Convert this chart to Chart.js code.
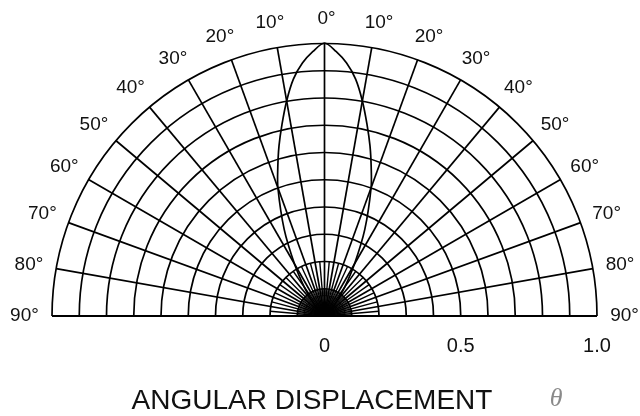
<!DOCTYPE html>
<html>
<head>
<meta charset="utf-8">
<title>Angular Displacement</title>
<script src="https://cdn.jsdelivr.net/npm/chart.js@4"></script>
<style>
    html, body { margin: 0; padding: 0; background: #fff; }
    #wrap { width: 640px; height: 416px; }
</style>
</head>
<body>
<div id="wrap"><canvas id="polarChart" width="640" height="416"></canvas></div>
<script>
// radiation pattern (angle in degrees, relative intensity)
const lobeAngles = [-90, -70, -60, -50, -45, -40, -35, -30, -25, -20, -17.5, -15, -12.5, -10, -7.5, -5, -2.5, 0,
                    2.5, 5, 7.5, 10, 12.5, 15, 17.5, 20, 25, 30, 35, 40, 45, 50, 60, 70, 90];
const lobeValues = [0, 0, 0.01, 0.02, 0.04, 0.07, 0.13, 0.22, 0.35, 0.50, 0.57, 0.645, 0.72, 0.80, 0.875, 0.93, 0.97, 1.0,
                    0.97, 0.93, 0.875, 0.80, 0.72, 0.645, 0.57, 0.50, 0.35, 0.22, 0.13, 0.07, 0.04, 0.02, 0.01, 0, 0];

// grid
const ringValues = [0.1, 0.2, 0.3, 0.4, 0.5, 0.6, 0.7, 0.8, 0.9, 1.0];
const spokeAngles = [-90, -80, -70, -60, -50, -40, -30, -20, -10, 0, 10, 20, 30, 40, 50, 60, 70, 80, 90];
const angleLabels = ['90°', '80°', '70°', '60°', '50°', '40°', '30°', '20°', '10°', '0°',
                     '10°', '20°', '30°', '40°', '50°', '60°', '70°', '80°', '90°'];

// radial axis ticks
const xTickValues = [0, 0.5, 1];
const xTickLabels = ['0', '0.5', '1.0'];

const axisTitle = 'ANGULAR DISPLACEMENT';
const thetaSymbol = 'θ';

const rad = d => d * Math.PI / 180;
const lobePoints = lobeAngles.map((a, i) => ({
    x: lobeValues[i] * Math.sin(rad(a)),
    y: lobeValues[i] * Math.cos(rad(a))
}));

const polarGrid = {
    id: 'polarGrid',
    beforeDatasetsDraw(chart) {
        const ctx = chart.ctx;
        const xs = chart.scales.x, ys = chart.scales.y;
        const cx = xs.getPixelForValue(0), cy = ys.getPixelForValue(0);
        const px = (r, a) => [xs.getPixelForValue(r * Math.sin(rad(a))), ys.getPixelForValue(r * Math.cos(rad(a)))];
        const unit = xs.getPixelForValue(1) - cx;

        ctx.save();
        ctx.strokeStyle = '#000';
        ctx.lineWidth = 1.7;

        // rings
        ringValues.forEach(r => {
            ctx.beginPath();
            ctx.arc(cx, cy, r * unit, Math.PI, 2 * Math.PI);
            ctx.stroke();
        });
        // tiny rings near the centre
        ctx.lineWidth = 0.8;
        [0.05, 0.075].forEach(r => {
            ctx.beginPath();
            ctx.arc(cx, cy, r * unit, Math.PI, 2 * Math.PI);
            ctx.stroke();
        });

        // main spokes
        ctx.lineWidth = 1.7;
        spokeAngles.forEach(a => {
            const [x1, y1] = px(1, a);
            ctx.beginPath();
            ctx.moveTo(cx, cy);
            ctx.lineTo(x1, y1);
            ctx.stroke();
        });
        // extra spokes every 5 deg up to 0.2, every 2.5 deg up to 0.1
        ctx.lineWidth = 1.4;
        for (let a = -85; a <= 85; a += 10) {
            const [x1, y1] = px(0.2, a);
            ctx.beginPath(); ctx.moveTo(cx, cy); ctx.lineTo(x1, y1); ctx.stroke();
        }
        ctx.lineWidth = 0.8;
        for (let a = -87.5; a <= 87.5; a += 5) {
            const [x1, y1] = px(0.1, a);
            ctx.beginPath(); ctx.moveTo(cx, cy); ctx.lineTo(x1, y1); ctx.stroke();
        }
        ctx.fillStyle = '#000';
        ctx.beginPath();
        ctx.arc(cx, cy, 0.03 * unit, Math.PI, 2 * Math.PI);
        ctx.fill();

        // baseline
        ctx.lineWidth = 1.8;
        ctx.beginPath();
        ctx.moveTo(xs.getPixelForValue(-1), cy);
        ctx.lineTo(xs.getPixelForValue(1), cy);
        ctx.stroke();

        // angle labels
        ctx.font = '19px "Liberation Sans", Arial, sans-serif';
        ctx.fillStyle = '#111';
        ctx.textAlign = 'center';
        ctx.textBaseline = 'middle';
        spokeAngles.forEach((a, i) => {
            const [lx, ly] = px(1.09, a);
            ctx.fillText(angleLabels[i], lx + (a > 0 ? 3 : a < 0 ? -3 : 2), ly);
        });
        ctx.restore();
    },
    afterDraw(chart) {
        const ctx = chart.ctx;
        const xs = chart.scales.x;
        ctx.save();
        ctx.fillStyle = '#111';
        ctx.textAlign = 'center';
        ctx.textBaseline = 'middle';
        ctx.font = '28px "Liberation Sans", Arial, sans-serif';
        ctx.fillText(axisTitle, xs.getPixelForValue(-0.046), 401);
        ctx.fillStyle = '#8a8a8a';
        ctx.font = 'italic 26px "Liberation Serif", "DejaVu Serif", serif';
        ctx.fillText(thetaSymbol, xs.getPixelForValue(0.85), 399);
        ctx.restore();
    }
};

const ctx = document.getElementById('polarChart').getContext('2d');
const polarChart = new Chart(ctx, {
    type: 'scatter',
    data: {
        datasets: [{
            label: 'Relative intensity',
            data: lobePoints,
            showLine: true,
            borderColor: '#000',
            borderWidth: 1.7,
            pointRadius: 0,
            tension: 0.3,
            clip: false
        }]
    },
    options: {
        responsive: false,
        animation: false,
        layout: { padding: { top: 43, left: 52, right: 43, bottom: 36 } },
        plugins: { legend: { display: false }, tooltip: { enabled: false } },
        scales: {
            x: {
                type: 'linear',
                min: -1,
                max: 1,
                afterBuildTicks: scale => { scale.ticks = xTickValues.map(v => ({ value: v })); },
                afterFit: scale => {
                    scale.height = 64;
                    scale.paddingLeft = 0;
                    scale.paddingRight = 0;
                },
                ticks: {
                    callback: (value, index) => xTickLabels[index],
                    font: { family: '"Liberation Sans", Arial, sans-serif', size: 20 },
                    color: '#111',
                    padding: 18,
                    maxRotation: 0,
                    autoSkip: false
                },
                grid: { display: false, drawTicks: false },
                border: { display: false }
            },
            y: {
                type: 'linear',
                min: 0,
                max: 1,
                display: false
            }
        }
    },
    plugins: [polarGrid]
});
</script>
</body>
</html>
